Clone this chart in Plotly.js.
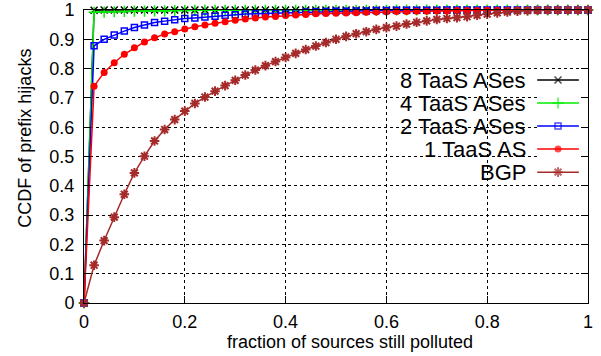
<!DOCTYPE html>
<html>
<head>
<meta charset="utf-8">
<script src="https://cdn.plot.ly/plotly-3.0.1.min.js"></script>
<style>html,body{margin:0;padding:0;background:#fff;}#chart{width:601px;height:356px;}</style>
</head>
<body>
<div id="chart"></div>
<script>
// ---- data ----
const xFrac = [0,0.02,0.04,0.06,0.08,0.10,0.12,0.14,0.16,0.18,0.20,0.22,0.24,0.26,0.28,0.30,0.32,0.34,0.36,0.38,0.40,0.42,0.44,0.46,0.48,0.50,0.52,0.54,0.56,0.58,0.60,0.62,0.64,0.66,0.68,0.70,0.72,0.74,0.76,0.78,0.80,0.82,0.84,0.86,0.88,0.90,0.92,0.94,0.96,0.98,1.00];

const taas8 = [0,0.999,1,1,1,1,1,1,1,1,1,1,1,1,1,1,1,1,1,1,1,1,1,1,1,1,1,1,1,1,1,1,1,1,1,1,1,1,1,1,1,1,1,1,1,1,1,1,1,1,1];

const taas4 = [0,0.992,0.993,0.994,0.995,0.996,0.996,0.997,0.997,0.998,0.998,0.999,0.999,0.999,0.999,0.999,0.999,0.999,0.999,0.999,0.999,0.999,0.999,0.999,0.999,0.999,0.999,0.999,0.999,0.999,0.999,1,1,1,1,1,1,1,1,1,1,1,1,1,1,1,1,1,1,1,1];

const taas2 = [0,0.878,0.900,0.915,0.928,0.940,0.949,0.957,0.962,0.967,0.971,0.973,0.976,0.979,0.982,0.984,0.986,0.987,0.988,0.989,0.990,0.991,0.993,0.994,0.995,0.996,0.996,0.997,0.997,0.998,0.998,0.999,0.999,0.999,0.999,0.999,1,1,1,1,1,1,1,1,1,1,1,1,1,1,1];

const taas1 = [0,0.740,0.787,0.820,0.849,0.871,0.891,0.905,0.918,0.926,0.935,0.943,0.949,0.955,0.960,0.965,0.969,0.973,0.976,0.978,0.981,0.983,0.985,0.987,0.988,0.989,0.990,0.991,0.992,0.993,0.994,0.995,0.995,0.996,0.996,0.997,0.997,0.998,0.998,0.998,0.999,0.999,0.999,0.999,0.999,0.999,0.999,0.999,0.999,0.999,1];

const bgp = [0,0.129,0.213,0.293,0.371,0.444,0.501,0.553,0.592,0.626,0.655,0.681,0.703,0.723,0.742,0.760,0.778,0.795,0.810,0.824,0.838,0.852,0.865,0.877,0.889,0.900,0.910,0.919,0.926,0.934,0.940,0.945,0.952,0.958,0.963,0.968,0.971,0.974,0.977,0.982,0.986,0.990,0.993,0.996,0.998,0.999,1,1,1,1,1];

const seriesNames = ["8 TaaS ASes","4 TaaS ASes","2 TaaS ASes","1 TaaS AS","BGP"];
const xTicks = [0,0.2,0.4,0.6,0.8,1];
const yTicks = [0,0.1,0.2,0.3,0.4,0.5,0.6,0.7,0.8,0.9,1];

// ---- styles ----
const FONT = "Liberation Sans, Arial, sans-serif";
const styles = [
  {color:"#000000", symbol:"x-thin-open", size:7, mlw:1.5},
  {color:"#00ee00", symbol:"cross-thin-open", size:8, mlw:1.5},
  {color:"#0000ff", symbol:"square-open", size:6, mlw:1.5},
  {color:"#ff0000", symbol:"circle", size:7, mlw:0},
  {color:"#a52a2a", symbol:"asterisk-open", size:8, mlw:2}
];
const ys = [taas8, taas4, taas2, taas1, bgp];

const traces = [];
ys.forEach((y,i)=>{
  const s = styles[i];
  traces.push({
    x: xFrac, y: y, type:"scatter", mode:"lines+markers", name: seriesNames[i],
    showlegend:false, cliponaxis:false,
    line:{color:s.color, width:1.5},
    marker:{color:s.color, symbol:s.symbol, size:s.size, line:{color:s.color, width:s.mlw}}
  });
});

// legend keys (drawn on an overlay axis)
const legendRows = [0,1,2,3,4];
const keyX = [0,0.5,1];
legendRows.forEach((r,i)=>{
  const s = styles[i];
  traces.push({
    x: keyX, y:[r,r,r], xaxis:"x2", yaxis:"y2", type:"scatter", mode:"lines+markers",
    showlegend:false, hoverinfo:"skip", cliponaxis:false,
    line:{color:s.color, width:1.5},
    marker:{color:s.color, symbol:s.symbol, size:[0,s.size,0], line:{color:s.color, width:s.mlw}}
  });
});

const legTop = 0.761, legBot = 0.447;
const annotations = seriesNames.map((n,i)=>({
  text:n, xref:"paper", yref:"paper", x:0.881, xanchor:"right",
  y: legTop - i*(legTop-legBot)/4, yanchor:"middle", showarrow:false,
  font:{family:FONT, size:22, color:"#000"}
}));
annotations.push({
  text:"CCDF of prefix hijacks", xref:"paper", yref:"paper", x:-0.117, y:0.561,
  xanchor:"center", yanchor:"middle", textangle:-90, showarrow:false,
  font:{family:FONT, size:18, color:"#000"}
});
annotations.push({
  text:"fraction of sources still polluted", xref:"paper", yref:"paper", x:0.528, y:-0.133,
  xanchor:"center", yanchor:"middle", showarrow:false,
  font:{family:FONT, size:18, color:"#000"}
});

const axisCommon = {
  showline:true, linecolor:"#000", linewidth:1, mirror:"ticks",
  ticks:"inside", ticklen:7, tickwidth:1, tickcolor:"#000",
  showgrid:true, gridcolor:"#000", griddash:"dot", gridwidth:1,
  zeroline:false, range:[0,1], tickfont:{family:FONT, size:18, color:"#000"}
};

const layout = {
  width:601, height:356,
  margin:{l:84, r:13, t:10, b:53},
  paper_bgcolor:"#fff", plot_bgcolor:"#fff",
  showlegend:false,
  xaxis: Object.assign({}, axisCommon, {tickvals:xTicks, ticktext:xTicks.map(String), ticklabelstandoff:2}),
  yaxis: Object.assign({}, axisCommon, {tickvals:yTicks, ticktext:yTicks.map(String), ticklabelstandoff:5}),
  xaxis2: {domain:[0.899,0.982], range:[0,1], anchor:"y2", visible:false, fixedrange:true},
  yaxis2: {domain:[legBot-0.02, legTop+0.02], range:[4.25,-0.25], anchor:"x2", visible:false, fixedrange:true},
  annotations: annotations
};

Plotly.newPlot("chart", traces, layout, {staticPlot:true, displayModeBar:false});
</script>
</body>
</html>
